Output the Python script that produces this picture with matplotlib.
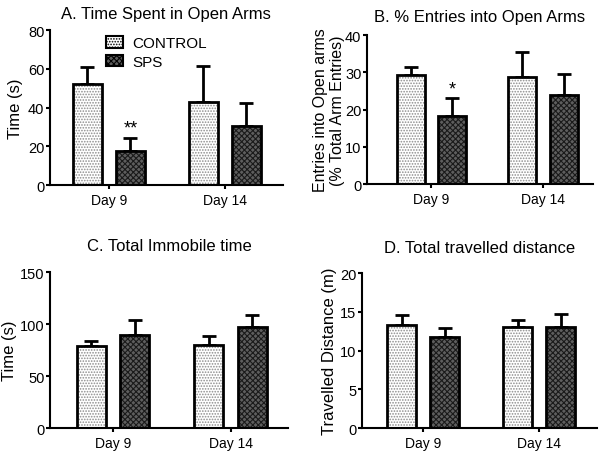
import matplotlib
matplotlib.use("Agg")
import matplotlib.pyplot as plt
import numpy as np

plt.rcParams['font.family'] = ['Liberation Sans', 'DejaVu Sans']
plt.rcParams['hatch.linewidth'] = 0.8

days = ["Day 9", "Day 14"]
groups = ["CONTROL", "SPS"]

a_control = [52, 43]
a_control_err = [9, 18.5]
a_sps = [17.5, 30.5]
a_sps_err = [7, 12]

b_control = [29.3, 28.8]
b_control_err = [2.2, 6.7]
b_sps = [18.2, 23.8]
b_sps_err = [4.8, 5.8]

c_control = [79, 80]
c_control_err = [5, 9]
c_sps = [89.5, 97]
c_sps_err = [14.5, 12]

d_control = [13.3, 13.0]
d_control_err = [1.3, 0.9]
d_sps = [11.8, 13.0]
d_sps_err = [1.1, 1.7]

fig = plt.figure(figsize=(6, 4.56), dpi=100)

panels = [
    dict(rect=[0.0833, 0.592, 0.388, 0.340], title="A. Time Spent in Open Arms", pad=9,
         ylabel="Time (s)", lfs=12, lx=-0.116, ylim=80, yticks=[0, 20, 40, 60, 80], xlim=(-0.508, 1.50),
         ctrl=a_control, ce=a_control_err, sps=a_sps, se=a_sps_err, stars=["**", None], legend=True),
    dict(rect=[0.6117, 0.594, 0.3766, 0.327], title="B. % Entries into Open Arms", pad=10,
         ylabel="Entries into Open arms\n(% Total Arm Entries)", lfs=11.5, lx=-0.097, ylim=40,
         yticks=[0, 10, 20, 30, 40], xlim=(-0.578, 1.448),
         ctrl=b_control, ce=b_control_err, sps=b_sps, se=b_sps_err, stars=["*", None], legend=False),
    dict(rect=[0.0833, 0.059, 0.3967, 0.342], title="C. Total Immobile time", pad=16,
         ylabel="Time (s)", lfs=12, lx=-0.14, ylim=150, yticks=[0, 50, 100, 150], xlim=(-0.536, 1.489),
         ctrl=c_control, ce=c_control_err, sps=c_sps, se=c_sps_err, stars=[None, None], legend=False),
    dict(rect=[0.6033, 0.059, 0.392, 0.340], title="D. Total travelled distance", pad=15,
         ylabel="Travelled Distance (m)", lfs=12, lx=-0.106, ylim=20, yticks=[0, 5, 10, 15, 20],
         xlim=(-0.526, 1.5),
         ctrl=d_control, ce=d_control_err, sps=d_sps, se=d_sps_err, stars=[None, None], legend=False),
]

x = np.arange(len(days))
off = 0.185
w = 0.25

for p in panels:
    ax = fig.add_axes(p["rect"])
    ax.bar(x - off, p["ctrl"], w, facecolor="white", edgecolor="#8c8c8c", hatch="......",
           linewidth=0, zorder=2, label=groups[0])
    ax.bar(x - off, p["ctrl"], w, fill=False, edgecolor="black", linewidth=2, zorder=3)
    ax.bar(x + off, p["sps"], w, facecolor="#5e5e5e", edgecolor="#1a1a1a", hatch="xxxxxx",
           linewidth=0, zorder=2, label=groups[1])
    ax.bar(x + off, p["sps"], w, fill=False, edgecolor="black", linewidth=2, zorder=3)
    ax.errorbar(x - off, p["ctrl"], yerr=[np.zeros(2), p["ce"]], fmt="none", ecolor="black",
                elinewidth=2, capsize=5, capthick=2, zorder=1)
    ax.errorbar(x + off, p["sps"], yerr=[np.zeros(2), p["se"]], fmt="none", ecolor="black",
                elinewidth=2, capsize=5, capthick=2, zorder=1)
    for i, s in enumerate(p["stars"]):
        if s:
            ax.annotate(s, (x[i] + off, p["sps"][i] + p["se"][i]), xytext=(0, 1),
                        textcoords="offset points", ha="center", va="bottom", fontsize=13)
    ax.set_xlim(*p["xlim"])
    ax.set_ylim(0, p["ylim"])
    ax.set_yticks(p["yticks"])
    ax.set_xticks(x)
    ax.set_xticklabels(days)
    ax.spines["top"].set_visible(False)
    ax.spines["right"].set_visible(False)
    for s in ["left", "bottom"]:
        ax.spines[s].set_linewidth(1.5)
    ax.tick_params(axis="both", direction="out", length=3, width=1.5)
    ax.tick_params(axis="y", labelsize=10.5, pad=1)
    ax.tick_params(axis="x", labelsize=10, pad=3)
    ax.set_ylabel(p["ylabel"], fontsize=p["lfs"])
    ax.yaxis.set_label_coords(p["lx"], 0.5)
    ax.set_title(p["title"], fontsize=12, pad=p["pad"])
    if p["legend"]:
        ax.legend(loc="upper left", bbox_to_anchor=(0.183, 1.05), frameon=False, fontsize=11,
                  handlelength=1.1, handleheight=0.8, labelspacing=0.3, handletextpad=0.6)
        for h in ax.get_legend().legend_handles:
            h.set_linewidth(1.5)
            h.set_edgecolor("black")

fig.savefig("out.png", dpi=100)
